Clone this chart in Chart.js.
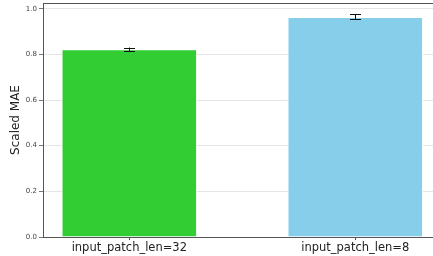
<!DOCTYPE html>
<html>
<head>
<meta charset="utf-8">
<script src="https://cdn.jsdelivr.net/npm/chart.js@4"></script>
<style>
  html,body{margin:0;padding:0;background:#fff;overflow:hidden;}
  #wrap{width:433px;height:256px;position:relative;}
</style>
</head>
<body>
<div id="wrap"><canvas id="c" width="433" height="256"></canvas></div>
<script>
/* ---------- Data ---------- */
const categories = ['input_patch_len=32', 'input_patch_len=8'];
const maeValues  = [0.822, 0.964];
const maeErrors  = [0.008, 0.011];
const barColors  = ['#32cd32', '#87ceeb'];
const yTicks     = [0, 0.2, 0.4, 0.6, 0.8, 1.0];

const SPINE = '#555';

/* error bars drawn through the y scale */
const errorBars = {
  id: 'errorBars',
  afterDatasetsDraw(chart){
    const meta = chart.getDatasetMeta(0);
    const y = chart.scales.y;
    const ctx = chart.ctx;
    ctx.save();
    ctx.strokeStyle = '#111';
    ctx.lineWidth = 1;
    meta.data.forEach((el, i)=>{
      const hi = y.getPixelForValue(maeValues[i] + maeErrors[i]);
      const lo = y.getPixelForValue(maeValues[i] - maeErrors[i]);
      const x = Math.round(el.x) + 0.5;
      ctx.beginPath();
      ctx.moveTo(x, hi); ctx.lineTo(x, lo);
      ctx.moveTo(x - 5.5, Math.round(hi) + 0.5); ctx.lineTo(x + 5.5, Math.round(hi) + 0.5);
      ctx.moveTo(x - 5.5, Math.round(lo) + 0.5); ctx.lineTo(x + 5.5, Math.round(lo) + 0.5);
      ctx.stroke();
    });
    ctx.restore();
  }
};

/* top spine (matplotlib-like frame) */
const frame = {
  id: 'frame',
  afterDraw(chart){
    const a = chart.chartArea, ctx = chart.ctx;
    ctx.save();
    ctx.strokeStyle = SPINE;
    ctx.lineWidth = 1;
    ctx.beginPath();
    ctx.moveTo(a.left, Math.round(a.top) + 0.5);
    ctx.lineTo(a.right, Math.round(a.top) + 0.5);
    ctx.stroke();
    ctx.restore();
  }
};

new Chart(document.getElementById('c'), {
  type: 'bar',
  data: {
    datasets: [{
      data: categories.map((c, i)=>({ x: i, y: maeValues[i] })),
      backgroundColor: barColors,
      borderColor: 'rgba(255,255,255,0.8)',
      borderWidth: 1,
      barPercentage: 0.6,
      categoryPercentage: 1
    }]
  },
  options: {
    responsive: false,
    animation: false,
    events: [],
    layout: { padding: { top: 3, left: 0, right: 0, bottom: 0 } },
    plugins: { legend: { display: false }, tooltip: { enabled: false } },
    scales: {
      x: {
        type: 'linear',
        offset: false,
        min: -0.382,
        max: 1.344,
        afterBuildTicks(s){ s.ticks = categories.map((c, i)=>({ value: i })); },
        afterFit(s){ s.height = 19; s.paddingLeft = 0; s.paddingRight = 0; },
        border: { display: true, color: SPINE, width: 1 },
        grid: { offset: false, drawOnChartArea: false, drawTicks: true, tickLength: 3, tickColor: SPINE },
        ticks: {
          color: '#222',
          padding: 1,
          maxRotation: 0,
          font: { family: 'DejaVu Sans', size: 11.5 },
          callback: v => categories[v]
        }
      },
      y: {
        min: 0,
        max: 1.025,
        afterBuildTicks(s){ s.ticks = yTicks.map(v=>({ value: v })); },
        afterFit(s){ s.width = 43; s.paddingTop = 0; s.paddingBottom = 0; },
        border: { display: true, color: SPINE, width: 1 },
        grid: {
          color: ctx => ctx.tick && ctx.tick.value === 0 ? 'rgba(0,0,0,0)' : 'rgba(0,0,0,0.13)',
          lineWidth: 0.8,
          borderDash: [2, 1.5],
          drawTicks: true,
          tickLength: 4,
          tickColor: SPINE,
          tickBorderDash: []
        },
        ticks: {
          color: '#444',
          padding: 2,
          font: { family: 'DejaVu Sans', size: 7 },
          callback: v => v.toFixed(1)
        },
        title: {
          display: true,
          text: 'Scaled MAE',
          color: '#222',
          padding: { top: 9, bottom: 4 },
          font: { family: 'DejaVu Sans', size: 12 }
        }
      }
    }
  },
  plugins: [errorBars, frame]
});
</script>
</body>
</html>
